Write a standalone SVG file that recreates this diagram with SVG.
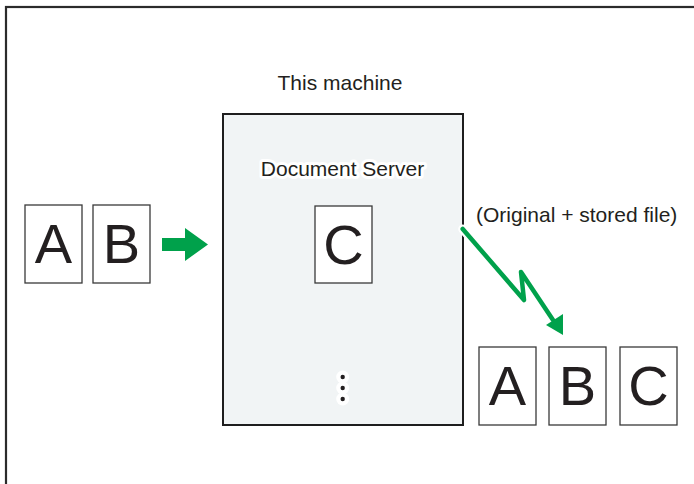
<svg xmlns="http://www.w3.org/2000/svg" width="694" height="484" viewBox="0 0 694 484">
  <style>
    text { font-family: "Liberation Sans", Arial, sans-serif; fill: #231f20; }
    .lbl { font-size: 21px; }
    .halo { stroke: #ffffff; stroke-width: 6px; stroke-linejoin: round; paint-order: stroke; }
    .doc { fill: #ffffff; stroke: #3a3a3a; stroke-width: 1.3; }
    .big { font-size: 56px; text-anchor: middle; }
    .green { fill: #00a14b; }
  </style>
  <rect x="6" y="7" width="720" height="520" fill="#ffffff" stroke="#2b2b2b" stroke-width="2.2"/>
  <g id="machine-label">
    <text class="lbl" x="340" y="90" text-anchor="middle">This machine</text>
  </g>
  <g id="document-server">
    <rect x="223" y="114" width="240" height="311" fill="#f1f4f5" stroke="#1e1e1e" stroke-width="2"/>
    <text class="lbl halo" x="342.5" y="176" text-anchor="middle">Document Server</text>
    <g id="stored-doc-c">
      <rect class="doc" x="315" y="206" width="57" height="77"/>
      <text class="big" x="343.5" y="264">C</text>
    </g>
    <g id="dots">
      <circle cx="342.7" cy="377" r="6.5" fill="#ffffff"/>
      <circle cx="342.7" cy="388" r="6.5" fill="#ffffff"/>
      <circle cx="342.7" cy="399" r="6.5" fill="#ffffff"/>
      <circle cx="342.7" cy="377" r="2.2" fill="#231f20"/>
      <circle cx="342.7" cy="388" r="2.2" fill="#231f20"/>
      <circle cx="342.7" cy="399" r="2.2" fill="#231f20"/>
    </g>
  </g>
  <g id="input-docs">
    <g id="in-a">
      <rect class="doc" x="25" y="205" width="57" height="78"/>
      <text class="big" x="53.5" y="263">A</text>
    </g>
    <g id="in-b">
      <rect class="doc" x="93" y="205" width="57" height="78"/>
      <text class="big" x="121.5" y="263">B</text>
    </g>
  </g>
  <g id="output-docs">
    <g id="out-a">
      <rect class="doc" x="479" y="347" width="57" height="78"/>
      <text class="big" x="507.5" y="405">A</text>
    </g>
    <g id="out-b">
      <rect class="doc" x="549" y="347" width="57" height="78"/>
      <text class="big" x="577.5" y="405">B</text>
    </g>
    <g id="out-c">
      <rect class="doc" x="620" y="347" width="57" height="78"/>
      <text class="big" x="648.5" y="405">C</text>
    </g>
  </g>
  <g id="output-label">
    <text class="lbl" x="476" y="221.5">(Original + stored file)</text>
  </g>
  <g id="connectors">
    <polygon class="green" points="162,238 185,238 185,228 208,244.5 185,261 185,251 162,251"/>
    <polyline points="462.7,229 524,300 521,272 553,320" fill="none" stroke="#ffffff" stroke-width="9" stroke-linecap="round" stroke-linejoin="round"/>
    <polyline points="462.7,229 524,300 521,272 553,320" fill="none" stroke="#00a14b" stroke-width="4.5" stroke-linecap="round" stroke-linejoin="round"/>
    <polygon class="green" points="563,335 546,325 563,314"/>
  </g>
</svg>
